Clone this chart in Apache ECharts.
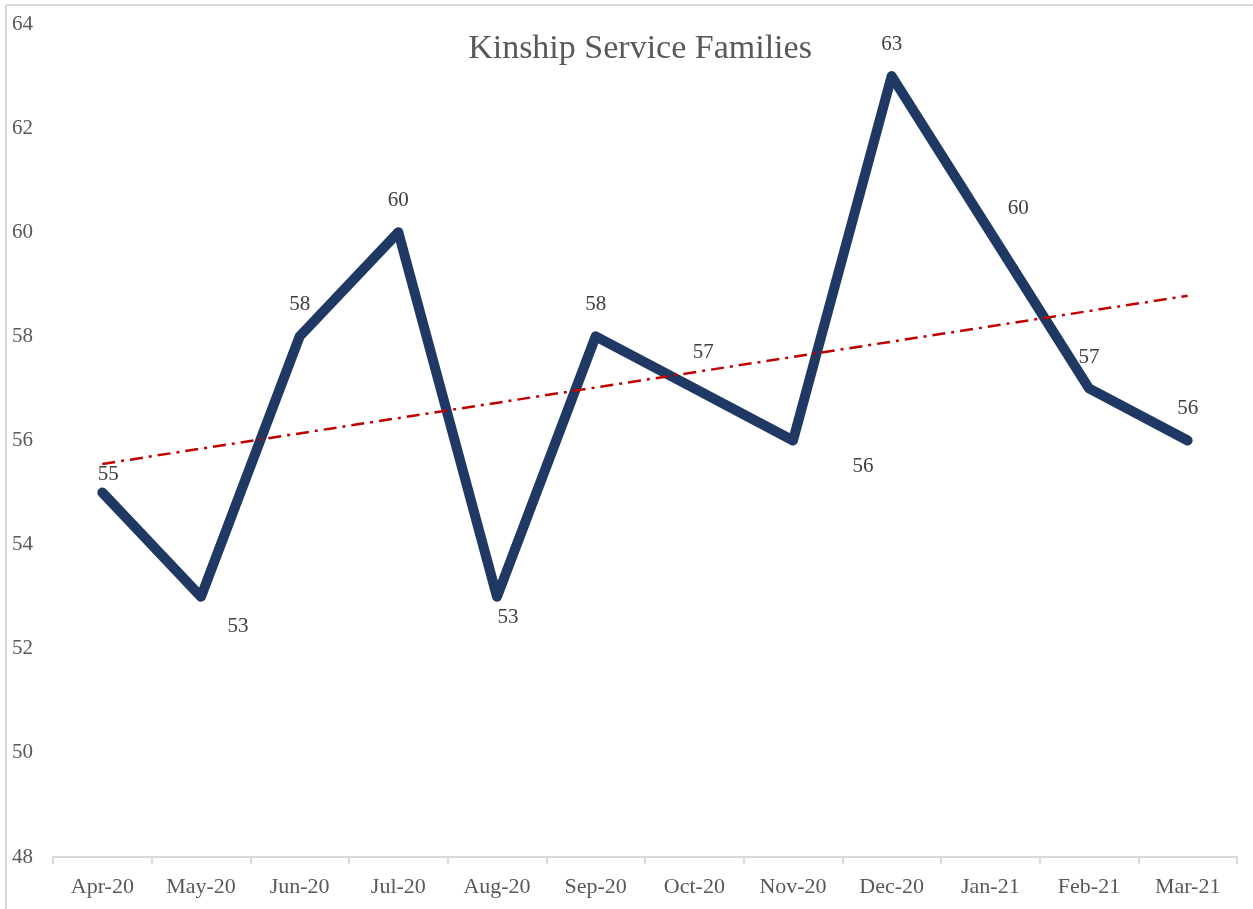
<!DOCTYPE html>
<html>
<head>
<meta charset="utf-8">
<script src="https://cdn.jsdelivr.net/npm/echarts@6/dist/echarts.min.js"></script>
<style>
  html, body { margin: 0; padding: 0; background: #fff; }
  #main { width: 1253px; height: 909px; }
</style>
</head>
<body>
<div id="main"></div>
<script>
var months = ['Apr-20', 'May-20', 'Jun-20', 'Jul-20', 'Aug-20', 'Sep-20', 'Oct-20', 'Nov-20', 'Dec-20', 'Jan-21', 'Feb-21', 'Mar-21'];
var families = [55, 53, 58, 60, 53, 58, 57, 56, 63, 60, 57, 56];
// linear trend at the first and last month
var trendEnds = [55.55, 58.78];
var yTicks = [48, 50, 52, 54, 56, 58, 60, 62, 64];

// where excel dropped each data label, relative to the point
var labelOffsets = [
    [6, -18], [37, 30], [0, -32], [0, -32], [11, 21], [0, -32],
    [9, -36], [70, 26], [0, -32], [28, -24], [0, -31], [0, -32]
];

var font = '"Liberation Serif", "DejaVu Serif", serif';
var myChart = echarts.init(document.getElementById('main'));

var lineData = families.map(function (v, i) {
    return {
        value: v,
        label: {offset: labelOffsets[i]}
    };
});

option = {
    animation: false,
    backgroundColor: '#fff',
    title: {
        text: 'Kinship Service Families',
        left: 635,
        top: 27,
        textAlign: 'center',
        textStyle: {
            fontFamily: font,
            fontWeight: 'normal',
            fontSize: 34,
            color: '#595959'
        }
    },
    grid: {
        left: 53,
        right: 16,
        top: 24,
        bottom: 52,
        containLabel: false
    },
    xAxis: {
        type: 'category',
        data: months,
        boundaryGap: true,
        axisLine: {lineStyle: {color: '#d9d9d9', width: 2}},
        axisTick: {show: true, length: 7, lineStyle: {color: '#d9d9d9', width: 2}},
        axisLabel: {
            margin: 19,
            fontFamily: font,
            fontSize: 22,
            color: '#595959'
        },
        splitLine: {show: false}
    },
    yAxis: {
        type: 'value',
        min: yTicks[0],
        max: yTicks[yTicks.length - 1],
        interval: 2,
        axisLine: {show: false},
        axisTick: {show: false},
        splitLine: {show: false},
        axisLabel: {
            margin: 20,
            fontFamily: font,
            fontSize: 21,
            color: '#595959'
        }
    },
    graphic: [
        {type: 'line', shape: {x1: 6, y1: 5, x2: 1253, y2: 5}, style: {stroke: '#d9d9d9', lineWidth: 2}},
        {type: 'line', shape: {x1: 6, y1: 5, x2: 6, y2: 909}, style: {stroke: '#d9d9d9', lineWidth: 2}}
    ],
    series: [
        {
            name: 'Trend',
            type: 'line',
            data: [[months[0], trendEnds[0]], [months[months.length - 1], trendEnds[1]]],
            symbol: 'none',
            silent: true,
            z: 3,
            lineStyle: {color: '#c00000', width: 2.5, type: [13, 6, 3, 6]}
        },
        {
            name: 'Kinship Service Families',
            type: 'line',
            data: lineData,
            symbol: 'circle',
            symbolSize: 1,
            showSymbol: true,
            z: 2,
            itemStyle: {color: '#1f3864'},
            lineStyle: {color: '#1f3864', width: 10, cap: 'round', join: 'round'},
            label: {
                show: true,
                position: 'inside',
                fontFamily: font,
                fontSize: 21,
                color: '#404040'
            }
        }
    ]
};

myChart.setOption(option);
</script>
</body>
</html>
